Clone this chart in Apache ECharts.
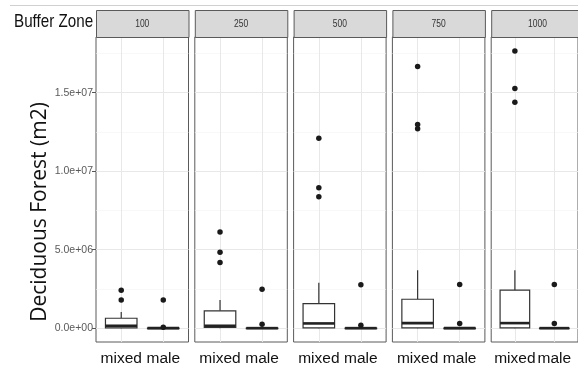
<!DOCTYPE html>
<html>
<head>
<meta charset="utf-8">
<script src="https://cdn.jsdelivr.net/npm/echarts@6/dist/echarts.min.js"></script>
<style>html,body{margin:0;padding:0;background:#fff;}#c{width:578px;height:376px;}</style>
</head>
<body>
<div id="c"></div>
<script>
// ---- data ----
var panels = ['100', '250', '500', '750', '1000'];
var categories = ['mixed', 'male'];
// [min, Q1, median, Q3, max] per panel
var mixedStats = [
  [0, 20000, 150000, 630000, 1030000],
  [0, 40000, 150000, 1100000, 1790000],
  [0, 20000, 300000, 1560000, 2890000],
  [0, 20000, 320000, 1840000, 3690000],
  [0, 20000, 320000, 2420000, 3690000]
];
var maleStats = [
  [0, 0, 0, 0, 10000],
  [0, 0, 0, 0, 10000],
  [0, 0, 0, 0, 10000],
  [0, 0, 0, 0, 10000],
  [0, 0, 0, 0, 10000]
];
var mixedOutliers = [
  [2420000, 1790000],
  [6120000, 4830000, 4180000],
  [12100000, 8940000, 8370000],
  [16670000, 12970000, 12700000],
  [17660000, 15270000, 14390000]
];
var maleOutliers = [
  [1790000, 50000],
  [2470000, 250000],
  [2770000, 190000],
  [2780000, 300000],
  [2780000, 300000]
];
var yTickValues = [0, 5000000, 10000000, 15000000];
var yTickLabels = ['0.0e+00', '5.0e+06', '1.0e+07', '1.5e+07'];
var yMinorValues = [2500000, 7500000, 12500000, 17500000];
var yTitle = 'Deciduous Forest (m2)';
var facetTitle = 'Buffer Zone';

// ---- chart ----
var chart = echarts.init(document.getElementById('c'), null, {renderer: 'canvas'});
var Y_MIN = -883000, Y_MAX = 18545000;
var grids = [], xAxes = [], yAxes = [], series = [], graphics = [];
var sans = "'Liberation Sans',Arial,sans-serif";

panels.forEach(function (p, i) {
  var left = 96 + i * 98.8, width = 92.5;
  grids.push({left: left, top: 37, width: width, height: 305, show: true,
    borderColor: '#5a5a5a', borderWidth: 1, backgroundColor: '#fff', containLabel: false});
  xAxes.push({type: 'value', gridIndex: i, min: 0.4, max: 2.6,
    axisLine: {show: false},
    axisTick: {show: true, customValues: [1, 2], length: 3, lineStyle: {color: '#555'}},
    splitLine: {show: false},
    axisLabel: {show: true, customValues: [1, 2], margin: 9, hideOverlap: false,
      showMinLabel: true, showMaxLabel: true,
      formatter: function (v) { return categories[Math.round(v) - 1] || ''; },
      fontFamily: sans, fontSize: 15.5, color: '#111'}
  });
  yAxes.push({type: 'value', gridIndex: i, min: Y_MIN, max: Y_MAX,
    axisLine: {show: false},
    axisTick: {show: i === 0, customValues: yTickValues, length: 4, lineStyle: {color: '#555'}},
    splitLine: {show: false},
    axisLabel: {show: i === 0, customValues: yTickValues, margin: 3,
      formatter: function (v) { var k = yTickValues.indexOf(v); return k >= 0 ? yTickLabels[k] : ''; },
      fontFamily: sans, fontSize: 10.5, color: '#5a5a5a'}
  });

  // gridlines
  var ml = [];
  yMinorValues.forEach(function (v) { ml.push({yAxis: v, lineStyle: {color: '#f3f3f3', width: 0.6, type: 'solid'}}); });
  yTickValues.forEach(function (v) { ml.push({yAxis: v, lineStyle: {color: '#e8e8e8', width: 1, type: 'solid'}}); });
  [1, 2].forEach(function (v) { ml.push({xAxis: v, lineStyle: {color: '#e8e8e8', width: 1, type: 'solid'}}); });
  series.push({type: 'scatter', xAxisIndex: i, yAxisIndex: i, data: [[1, 0]], symbolSize: 0, z: 1, silent: true,
    markLine: {silent: true, z: 1, symbol: 'none', label: {show: false}, animation: false, data: ml}});

  // boxes
  var boxData = [[1].concat(mixedStats[i]), [2].concat(maleStats[i])];
  series.push({type: 'custom', xAxisIndex: i, yAxisIndex: i, z: 3, data: boxData,
    renderItem: function (params, api) {
      var x = api.value(0), mn = api.value(1), q1 = api.value(2), md = api.value(3), q3 = api.value(4), mx = api.value(5);
      var hw = 0.375;
      var tl = api.coord([x - hw, q3]), br = api.coord([x + hw, q1]);
      var cTop = api.coord([x, mx]), cQ3 = api.coord([x, q3]), cQ1 = api.coord([x, q1]), cMin = api.coord([x, mn]);
      var mL = api.coord([x - hw, md]), mR = api.coord([x + hw, md]);
      var stroke = '#333';
      return {type: 'group', children: [
        {type: 'line', shape: {x1: cTop[0], y1: cTop[1], x2: cQ3[0], y2: cQ3[1]}, style: {stroke: stroke, lineWidth: 1.2}},
        {type: 'line', shape: {x1: cQ1[0], y1: cQ1[1], x2: cMin[0], y2: cMin[1]}, style: {stroke: stroke, lineWidth: 1.2}},
        {type: 'rect', shape: {x: tl[0], y: tl[1], width: br[0] - tl[0], height: Math.max(br[1] - tl[1], 0.5)},
          style: {fill: '#fff', stroke: stroke, lineWidth: 1.2}},
        {type: 'line', shape: {x1: mL[0], y1: mL[1], x2: mR[0], y2: mR[1]}, style: {stroke: '#222', lineWidth: 2.6}}
      ]};
    }
  });

  // outliers
  var pts = [];
  mixedOutliers[i].forEach(function (v) { pts.push([1, v]); });
  maleOutliers[i].forEach(function (v) { pts.push([2, v]); });
  series.push({type: 'scatter', xAxisIndex: i, yAxisIndex: i, z: 4, data: pts, symbolSize: 5.5,
    itemStyle: {color: '#1a1a1a', borderWidth: 0, opacity: 1}, silent: true});

  // strip
  graphics.push({type: 'rect', left: left, top: 10, shape: {width: width, height: 27},
    style: {fill: '#d9d9d9', stroke: '#5a5a5a', lineWidth: 1}, z: 10});
  graphics.push({type: 'text', x: left + width / 2, y: 24, scaleX: 0.85,
    style: {text: p, textAlign: 'center', textVerticalAlign: 'middle', font: "10px 'Liberation Sans',Arial,sans-serif", fill: '#333'}, z: 11});
});

graphics.push({type: 'line', shape: {x1: 10, y1: 5.5, x2: 578, y2: 5.5}, style: {stroke: '#d0d0d0', lineWidth: 1}, z: 1});
graphics.push({type: 'text', x: 14, y: 22, scaleX: 0.8,
  style: {text: facetTitle, textAlign: 'left', textVerticalAlign: 'middle', font: "19px 'Liberation Sans',Arial,sans-serif", fill: '#111'}, z: 11});
graphics.push({type: 'text', x: 40, y: 212, rotation: Math.PI / 2,
  style: {text: yTitle, textAlign: 'center', textVerticalAlign: 'middle', font: "21px 'Open Sans',sans-serif", fill: '#111'}, z: 11});

chart.setOption({
  animation: false,
  backgroundColor: '#fff',
  grid: grids, xAxis: xAxes, yAxis: yAxes, series: series, graphic: graphics
});
</script>
</body>
</html>
